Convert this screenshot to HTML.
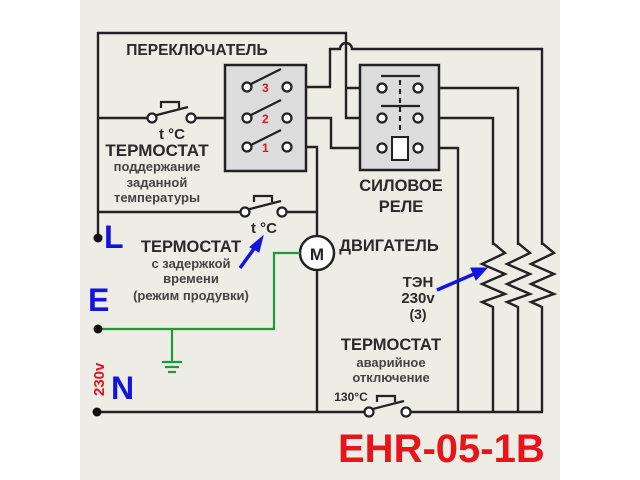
<!DOCTYPE html>
<html><head><meta charset="utf-8"><style>
body{margin:0;background:#fff}
svg{display:block}
text{font-family:"Liberation Sans",sans-serif;font-weight:bold}
</style></head><body>
<svg width="640" height="480" viewBox="0 0 640 480" xmlns="http://www.w3.org/2000/svg">
<rect x="80" y="0" width="480" height="480" fill="#edece5"/>
<g fill="none" stroke="#222" stroke-width="2.4">
<polyline points="98,238 98,33 346,33 346,118 382,118"/>
<line x1="346" y1="88" x2="382" y2="88"/>
<path d="M287,87 H330 V49 H340 A6,6 0 0 1 352,49 H542 V245"/>
<polyline points="287,118 331,118 331,148 382,148"/>
<polyline points="418,88 518,88 518,245"/>
<polyline points="418,118 493,118 493,245"/>
<polyline points="418,148 458,148 458,412"/>
<polyline points="493,243 505,253 482,264 505,274 482,284 505,294 482,302 493,307 493,412"/>
<polyline points="518,243 530,253 507,264 530,274 507,284 530,294 507,302 518,307 518,412"/>
<polyline points="542,243 554,253 531,264 554,274 531,284 554,294 531,302 542,307 542,412"/>
<line x1="98" y1="118" x2="148" y2="118"/><line x1="196" y1="118" x2="247" y2="118"/>
<polyline points="287,147 317,147 317,236"/>
<line x1="98" y1="212" x2="241" y2="212"/><line x1="286" y1="212" x2="317" y2="212"/>
<line x1="317" y1="270" x2="317" y2="412"/>
<line x1="97" y1="412" x2="365" y2="412"/><line x1="410" y1="412" x2="543" y2="412"/>
</g>
<rect x="225" y="65" width="81" height="106" fill="#dcdcdc" stroke="#222" stroke-width="2.5"/>
<g stroke="#222" stroke-width="2.2" fill="none">
<line x1="251" y1="84" x2="281" y2="69"/><line x1="251" y1="115" x2="281" y2="100"/><line x1="251" y1="145" x2="281" y2="130"/>
</g>
<g fill="#fff" stroke="#222" stroke-width="2.2">
<circle cx="247" cy="87" r="4.5"/><circle cx="287" cy="87" r="4.5"/>
<circle cx="247" cy="118" r="4.5"/><circle cx="287" cy="118" r="4.5"/>
<circle cx="247" cy="147" r="4.5"/><circle cx="287" cy="147" r="4.5"/>
</g>
<g fill="#e0141c" font-size="12"><text x="262" y="92">3</text><text x="262" y="123">2</text><text x="262" y="152">1</text></g>
<rect x="360" y="65" width="79" height="105" fill="#dcdcdc" stroke="#222" stroke-width="2.5"/>
<g stroke="#222" stroke-width="2.2" fill="none">
<line x1="381" y1="76" x2="420" y2="76"/><line x1="381" y1="106" x2="420" y2="106"/>
<line x1="400" y1="80" x2="400" y2="130" stroke-dasharray="5,4"/>
</g>
<rect x="392" y="137" width="16" height="23" fill="#fff" stroke="#222" stroke-width="2"/>
<g fill="#fff" stroke="#222" stroke-width="2.2">
<circle cx="382" cy="88" r="4.5"/><circle cx="418" cy="88" r="4.5"/>
<circle cx="382" cy="118" r="4.5"/><circle cx="418" cy="118" r="4.5"/>
<circle cx="382" cy="148" r="4.5"/><circle cx="418" cy="148" r="4.5"/>
</g>
<g stroke="#222" stroke-width="2.2" fill="none">
<line x1="153" y1="116" x2="188" y2="107"/><polyline points="161,108 161,102 179,102 179,108"/>
<line x1="246" y1="210" x2="281" y2="201"/><polyline points="254,202 254,196 272,196 272,202"/>
<line x1="369" y1="410" x2="404" y2="401"/><polyline points="377,402 377,396 395,396 395,402"/>
</g>
<g fill="#fff" stroke="#222" stroke-width="2.2">
<circle cx="152" cy="118" r="4.5"/><circle cx="191" cy="118" r="4.5"/>
<circle cx="245" cy="212" r="4.5"/><circle cx="282" cy="212" r="4.5"/>
<circle cx="369" cy="412" r="4.5"/><circle cx="406" cy="412" r="4.5"/>
</g>
<circle cx="317" cy="253" r="17" fill="#fff" stroke="#222" stroke-width="2.5"/>
<text x="317" y="260" font-size="17" text-anchor="middle" fill="#222">M</text>
<g stroke="#1e9a3c" stroke-width="2.2" fill="none">
<polyline points="98,329 274,329 274,253 300,253"/>
<line x1="172" y1="329" x2="172" y2="362"/>
<line x1="162" y1="362" x2="182" y2="362"/><line x1="165" y1="367" x2="179" y2="367"/><line x1="168" y1="372" x2="176" y2="372"/>
</g>
<g fill="#111"><circle cx="98" cy="238" r="4.5"/><circle cx="98" cy="329" r="4.5"/><circle cx="97" cy="412" r="4.5"/></g>
<g stroke="#1414e0" stroke-width="3.5" fill="#1414e0">
<line x1="240" y1="268" x2="256" y2="246"/><polygon points="263,236 250,247 259,252" stroke-width="1"/>
<line x1="437" y1="290" x2="474" y2="274"/><polygon points="487,268 471,268 476,280" stroke-width="1"/>
</g>
<g fill="#2a2a2a" text-anchor="middle">
<text x="197" y="55" font-size="15.5">ПЕРЕКЛЮЧАТЕЛЬ</text>
<text x="172" y="139" font-size="15">t °C</text>
<text x="157" y="156" font-size="17">ТЕРМОСТАТ</text>
<text x="157" y="171" font-size="13" fill="#444">поддержание</text>
<text x="157" y="187" font-size="13" fill="#444">заданной</text>
<text x="157" y="202" font-size="13" fill="#444">температуры</text>
<text x="264" y="233" font-size="15">t °C</text>
<text x="191" y="252" font-size="16.5">ТЕРМОСТАТ</text>
<text x="191" y="268" font-size="13" fill="#444">с задержкой</text>
<text x="191" y="283" font-size="13" fill="#444">времени</text>
<text x="191" y="300" font-size="13" fill="#444">(режим продувки)</text>
<text x="389" y="251" font-size="16.5">ДВИГАТЕЛЬ</text>
<text x="401" y="191" font-size="16.5">СИЛОВОЕ</text>
<text x="401" y="212" font-size="16.5">РЕЛЕ</text>
<text x="418" y="287" font-size="15">ТЭН</text>
<text x="418" y="303" font-size="15">230v</text>
<text x="418" y="319" font-size="14">(3)</text>
<text x="391" y="350" font-size="16.5">ТЕРМОСТАТ</text>
<text x="391" y="367" font-size="13" fill="#444">аварийное</text>
<text x="391" y="382" font-size="13" fill="#444">отключение</text>
<text x="351" y="401" font-size="12">130°C</text>
</g>
<g fill="#1414e0" font-size="32">
<text x="104" y="248">L</text><text x="88" y="311">E</text><text x="111" y="399">N</text>
</g>
<text transform="translate(104,396) rotate(-90)" fill="#e0141c" font-size="15">230v</text>
<text x="338" y="462" fill="#e8141c" font-size="40">EHR-05-1B</text>
</svg>
</body></html>
